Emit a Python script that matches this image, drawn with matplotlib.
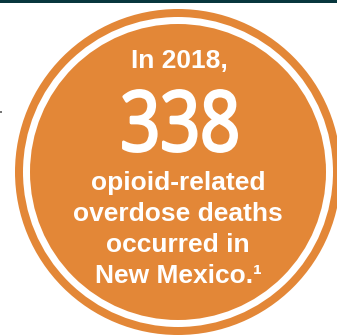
import matplotlib
matplotlib.use("Agg")
import matplotlib.pyplot as plt
from matplotlib.patches import Circle, PathPatch, Rectangle
from matplotlib.textpath import TextPath
from matplotlib.font_manager import FontProperties
from matplotlib.transforms import Affine2D

# =====================================================
# DATA
# =====================================================
year = 2018
deaths = 338
lines = ["opioid-related", "overdose deaths", "occurred in", "New Mexico.\u00b9"]

ORANGE = "#E38737"
TEAL = "#07363D"

# =====================================================
# FIGURE (1 data unit = 1 pixel)
# =====================================================
W, H = 337, 335
fig = plt.figure(figsize=(W / 100, H / 100), dpi=100)
ax = fig.add_axes([0, 0, 1, 1])
ax.set_xlim(0, W)
ax.set_ylim(H, 0)
ax.axis("off")

# top bar
ax.add_patch(Rectangle((0, 0), W, 3.3, color=TEAL, lw=0))

# rings
cx, cy = 178, 172
ax.add_patch(Circle((cx, cy), 163, color=ORANGE, lw=0))
ax.add_patch(Circle((cx, cy), 155, color="white", lw=0))
ax.add_patch(Circle((cx, cy), 148, color=ORANGE, lw=0))

# tiny mark on the left edge
ax.add_patch(Rectangle((0, 111), 2, 2, color="#777777", lw=0))

font = ["Liberation Sans", "DejaVu Sans"]

ax.text(cx + 1, 68, f"In {year},", color="white", fontsize=19, fontweight="bold",
        family=font, ha="center", va="baseline")

# big number, condensed by scaling the glyph outline
tp = TextPath((0, 0), str(deaths), size=100,
              prop=FontProperties(family="Open Sans", weight="normal"))
ext = tp.get_extents()
x0, x1, y_top, y_bot = 123.5, 236.5, 90.5, 151.5
tr = (Affine2D().translate(-ext.x0, -ext.y0)
      .scale((x1 - x0) / ext.width, -(y_bot - y_top) / ext.height)
      .translate(x0, y_bot))
ax.add_patch(PathPatch(tr.transform_path(tp), facecolor="white",
                       edgecolor="white", lw=2.1, joinstyle="round"))

for i, s in enumerate(lines):
    ax.text(cx, 190 + i * 31, s, color="white", fontsize=19,
            fontweight="bold", family=font, ha="center", va="baseline")

plt.savefig("out.png", dpi=100)
plt.close()
